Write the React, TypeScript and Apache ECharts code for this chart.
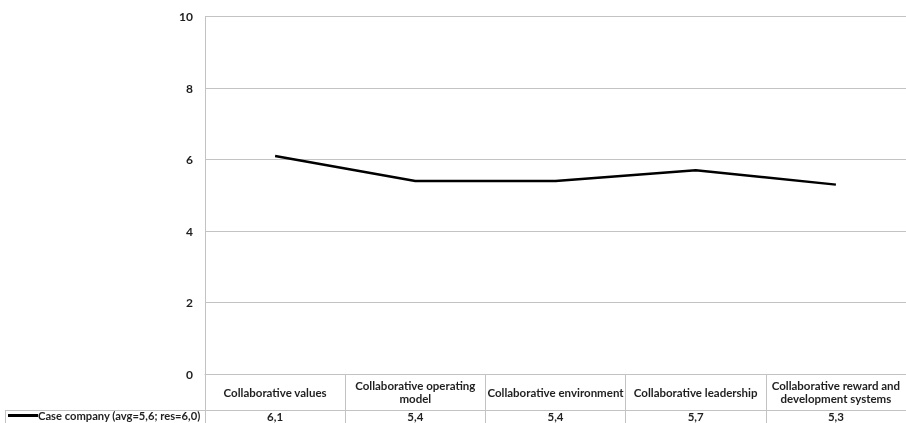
import React, { useEffect, useRef } from "react";
import * as echarts from "echarts";

const categories = [
  "Collaborative values",
  "Collaborative operating\nmodel",
  "Collaborative environment",
  "Collaborative leadership",
  "Collaborative reward and\ndevelopment systems",
];
const seriesName = "Case company (avg=5,6; res=6,0)";
const values = [6.1, 5.4, 5.4, 5.7, 5.3];
const yTicks = [0, 2, 4, 6, 8, 10];

const FONT = "Lato";
const TEXT = "#1f1f1f";
const GRID = "#c3c3c3";

export default function App() {
  const ref = useRef<HTMLDivElement>(null);
  useEffect(() => {
    if (!ref.current) return;
    const chart = echarts.init(ref.current, undefined, { renderer: "svg" });
    chart.setOption({
      animation: false,
      textStyle: { fontFamily: FONT },
      grid: { left: 205, right: 0, top: 16.7, bottom: 49 },
      legend: {
        data: [seriesName],
        left: 8,
        top: 410,
        padding: 0,
        itemWidth: 30,
        itemHeight: 3,
        itemGap: 0,
        icon: "rect",
        textStyle: { fontFamily: FONT, fontWeight: "bold", fontSize: 11.2, color: TEXT, padding: [0, 0, 0, -5] },
      },
      xAxis: [
        {
          type: "category",
          data: categories,
          boundaryGap: true,
          axisLine: { show: true, lineStyle: { color: GRID, width: 1 } },
          axisTick: { show: true, length: 49, lineStyle: { color: GRID, width: 1 } },
          axisLabel: {
            interval: 0,
            margin: 18,
            verticalAlign: "middle",
            fontFamily: FONT,
            fontWeight: "bold",
            fontSize: 11.5,
            lineHeight: 13,
            color: TEXT,
          },
        },
        {
          type: "category",
          data: categories,
          position: "bottom",
          boundaryGap: true,
          axisLine: { show: false },
          axisTick: { show: false },
          axisLabel: {
            interval: 0,
            margin: 42,
            verticalAlign: "middle",
            fontFamily: FONT,
            fontWeight: "bold",
            fontSize: 11.5,
            color: TEXT,
            formatter: (_v: string, i: number) => values[i].toFixed(1).replace(".", ","),
          },
        },
      ],
      yAxis: {
        type: "value",
        min: yTicks[0],
        max: yTicks[yTicks.length - 1],
        interval: 2,
        axisLine: { show: true, lineStyle: { color: GRID, width: 1 } },
        axisTick: { show: false },
        splitLine: { show: true, lineStyle: { color: GRID, width: 1 } },
        axisLabel: {
          margin: 12,
          fontFamily: FONT,
          fontWeight: "bold",
          fontSize: 12,
          color: TEXT,
        },
      },
      series: [
        {
          name: seriesName,
          type: "line",
          data: values,
          xAxisIndex: 0,
          symbol: "none",
          lineStyle: { color: "#000000", width: 2.5 },
          itemStyle: { color: "#000000" },
        },
      ],
      graphic: [
        {
          type: "line",
          shape: { x1: 5, y1: 410.5, x2: 906, y2: 410.5 },
          style: { stroke: GRID, lineWidth: 1 },
        },
        {
          type: "line",
          shape: { x1: 5.5, y1: 410, x2: 5.5, y2: 423 },
          style: { stroke: GRID, lineWidth: 1 },
        },
      ],
    });
    return () => chart.dispose();
  }, []);
  return (
    <div
      ref={ref}
      style={{ position: "fixed", left: 0, top: 0, width: 906, height: 423 }}
    />
  );
}
